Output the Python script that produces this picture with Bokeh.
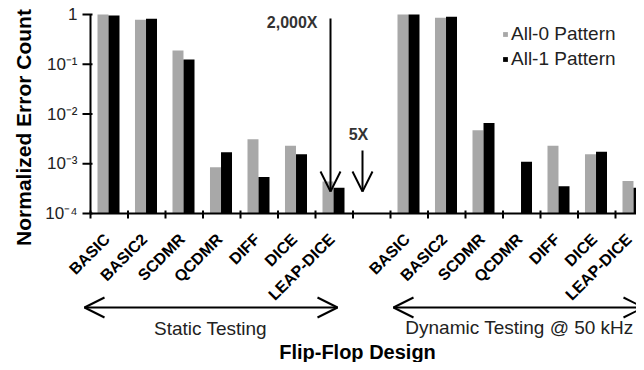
import math
from bokeh.plotting import figure
from bokeh.layouts import column, row
from bokeh.models import (ColumnDataSource, FixedTicker, Range1d, Legend, LegendItem)
from bokeh.core.properties import value
from bokeh.embed import file_html
from bokeh.resources import INLINE

# ---- data ----
designs = ["BASIC", "BASIC2", "SCDMR", "QCDMR", "DIFF", "DICE", "LEAP-DICE"]
static_all0 = [1.0, 0.78, 0.19, 8.5e-4, 3.1e-3, 2.3e-3, 4.4e-4]
static_all1 = [0.95, 0.82, 0.125, 1.7e-3, 5.4e-4, 1.55e-3, 3.3e-4]
dynamic_all0 = [1.0, 0.86, 4.7e-3, float("nan"), 2.3e-3, 1.55e-3, 4.5e-4]
dynamic_all1 = [1.0, 0.90, 6.6e-3, 1.1e-3, 3.55e-4, 1.75e-3, 3.3e-4]
series_names = ["All-0 Pattern", "All-1 Pattern"]
y_ticks = [1e-4, 1e-3, 1e-2, 1e-1, 1.0]
y_tick_labels = ["10\u207b\u2074", "10\u207b\u00b3", "10\u207b\u00b2", "10\u207b\u00b9", "1"]
group_labels = ["Static Testing", "Dynamic Testing @ 50 kHz"]
ratio_labels = ["2,000X", "5X"]
x_title = "Flip-Flop Design"
y_title = "Normalized Error Count"

GRAY = "#a8a8a8"
FONT = "Liberation Sans"
TXT = "#222222"

# slots: 0..6 static, 7 gap, 8..14 dynamic
slots = list(range(7)) + list(range(8, 15))
centers = [s + 0.5 for s in slots]
bounds = list(range(16))
src = ColumnDataSource(dict(
    xg=[s + 0.333 for s in slots],
    xb=[s + 0.627 for s in slots],
    all0=static_all0 + dynamic_all0,
    all1=static_all1 + dynamic_all1,
))

# layout helpers (page pixel -> data coordinates)
X0, CAT = 90.0, 37.5
Y0, DEC = 14.0, 49.75
W = 636
H_TOT = 362
W_LEFT = 40
H_MAIN = 228
H_BOT = H_TOT - H_MAIN
FR_L, FR_T, FR_B = 80, 10, 220
def px(x):
    return (x - X0) / CAT
def py(y):
    return 10 ** (-(y - Y0) / DEC)
def sy(y):
    return H_TOT - y

# ---- left strip: y title ----
t = figure(width=W_LEFT, height=H_TOT, output_backend="svg", toolbar_location=None,
           x_range=Range1d(0, W_LEFT), y_range=Range1d(0, H_TOT), min_border=0)
t.frame_align = False
t.axis.visible = False
t.grid.visible = False
t.outline_line_color = None
t.text(x=[23], y=[sy(127)], text=[y_title], angle=math.pi / 2, text_align="center",
       text_baseline="middle", text_font=value(FONT), text_font_style="bold",
       text_font_size="21px", text_color="black")

# ---- main plot ----
p = figure(width=W - W_LEFT, height=H_MAIN, output_backend="svg", toolbar_location=None,
           x_range=Range1d(px(FR_L), px(W)), y_range=Range1d(py(FR_B), py(FR_T)),
           y_axis_type="log",
           min_border_left=FR_L - W_LEFT, min_border_right=0, min_border_top=FR_T,
           min_border_bottom=H_MAIN - FR_B)
p.frame_align = False
p.outline_line_color = None
p.grid.visible = False

r0 = p.vbar(x="xg", width=0.293, bottom=y_ticks[0], top="all0", source=src,
            fill_color=GRAY, line_color=None)
r1 = p.vbar(x="xb", width=0.293, bottom=y_ticks[0], top="all1", source=src,
            fill_color="black", line_color=None)

# axis rules and tick marks
p.segment(x0=[0, 0], y0=[y_ticks[0], y_ticks[0]], x1=[0, px(W)], y1=[y_ticks[-1], y_ticks[0]],
          line_color="black", line_width=2)
p.segment(x0=[px(82)] * len(y_ticks), x1=[px(92)] * len(y_ticks), y0=y_ticks, y1=y_ticks,
          line_color="black", line_width=2)
p.segment(x0=bounds, x1=bounds, y0=[py(210)] * len(bounds), y1=[py(218)] * len(bounds),
          line_color="black", line_width=2)

# y axis: tick labels
ya = p.yaxis[0]
ya.ticker = FixedTicker(ticks=y_ticks)
ya.major_label_overrides = {t_: l for t_, l in zip(y_ticks, y_tick_labels)}
ya.axis_line_color = None
ya.major_tick_line_color = None
ya.minor_tick_line_color = None
ya.major_tick_in = 0
ya.major_tick_out = 0
ya.major_label_text_font = FONT
ya.major_label_text_font_size = "17px"
ya.major_label_text_color = TXT
ya.major_label_standoff = 3

p.xaxis.visible = False

# legend
leg = Legend(items=[LegendItem(label=series_names[0], renderers=[r0]),
                    LegendItem(label=series_names[1], renderers=[r1])],
             location=(422, 150), glyph_width=6, glyph_height=6,
             label_text_font=FONT, label_text_font_size="19px",
             label_text_color=TXT, label_standoff=3, spacing=3, padding=0,
             margin=0, border_line_color=None, background_fill_alpha=0)
p.add_layout(leg)

# ratio arrows (drawn as line glyphs)
def v_arrow(fig, x, y_top, y_tip):
    xs = [[px(x), px(x)], [px(x - 10), px(x)], [px(x + 10), px(x)]]
    ys = [[py(y_top), py(y_tip)], [py(y_tip - 20), py(y_tip)], [py(y_tip - 20), py(y_tip)]]
    fig.multi_line(xs=xs, ys=ys, line_color="black", line_width=2)

v_arrow(p, 330, 18, 191)
v_arrow(p, 362, 150, 191)
p.text(x=[px(317)], y=[py(22)], text=[ratio_labels[0]], text_align="right",
       text_baseline="middle", text_font=value(FONT), text_font_style="bold",
       text_font_size="16px", text_color="#333333")
p.text(x=[px(358)], y=[py(134)], text=[ratio_labels[1]], text_align="center",
       text_baseline="middle", text_font=value(FONT), text_font_style="bold",
       text_font_size="16px", text_color="#333333")

# ---- bottom strip: category names, group arrows and x title ----
b = figure(width=W - W_LEFT, height=H_BOT, output_backend="svg", toolbar_location=None,
           x_range=Range1d(px(W_LEFT), px(W)), y_range=Range1d(0, H_BOT),
           min_border=0)
b.frame_align = False
b.axis.visible = False
b.grid.visible = False
b.outline_line_color = None

label_shift = [-0.06] * (len(centers) - 1) + [-0.14]
b.text(x=[c + d for c, d in zip(centers, label_shift)], y=[sy(236)] * len(centers),
       text=designs * 2, angle=math.pi / 4, text_align="right", text_baseline="middle",
       text_font=value(FONT), text_font_style="bold", text_font_size="16px",
       text_color="black")

def h_double_arrow(fig, x0, x1, y):
    xs = [[px(x0), px(x1)],
          [px(x0 + 20), px(x0), px(x0 + 20)],
          [px(x1 - 20), px(x1), px(x1 - 20)]]
    ys = [[sy(y), sy(y)], [sy(y - 10), sy(y), sy(y + 10)], [sy(y - 10), sy(y), sy(y + 10)]]
    fig.multi_line(xs=xs, ys=ys, line_color="black", line_width=2)

h_double_arrow(b, 84, 337, 307)
h_double_arrow(b, 393, 643, 307)
b.text(x=[px(210), px(519)], y=[sy(328), sy(327)], text=group_labels, text_align="center",
       text_baseline="middle", text_font=value(FONT), text_font_size="19px",
       text_color=TXT)
b.text(x=[px(357)], y=[sy(351)], text=[x_title], text_align="center",
       text_baseline="middle", text_font=value(FONT), text_font_style="bold",
       text_font_size="20px", text_color="black")

layout = row(t, column(p, b, spacing=0), spacing=0)
open("out.html", "w").write(file_html(layout, INLINE))
